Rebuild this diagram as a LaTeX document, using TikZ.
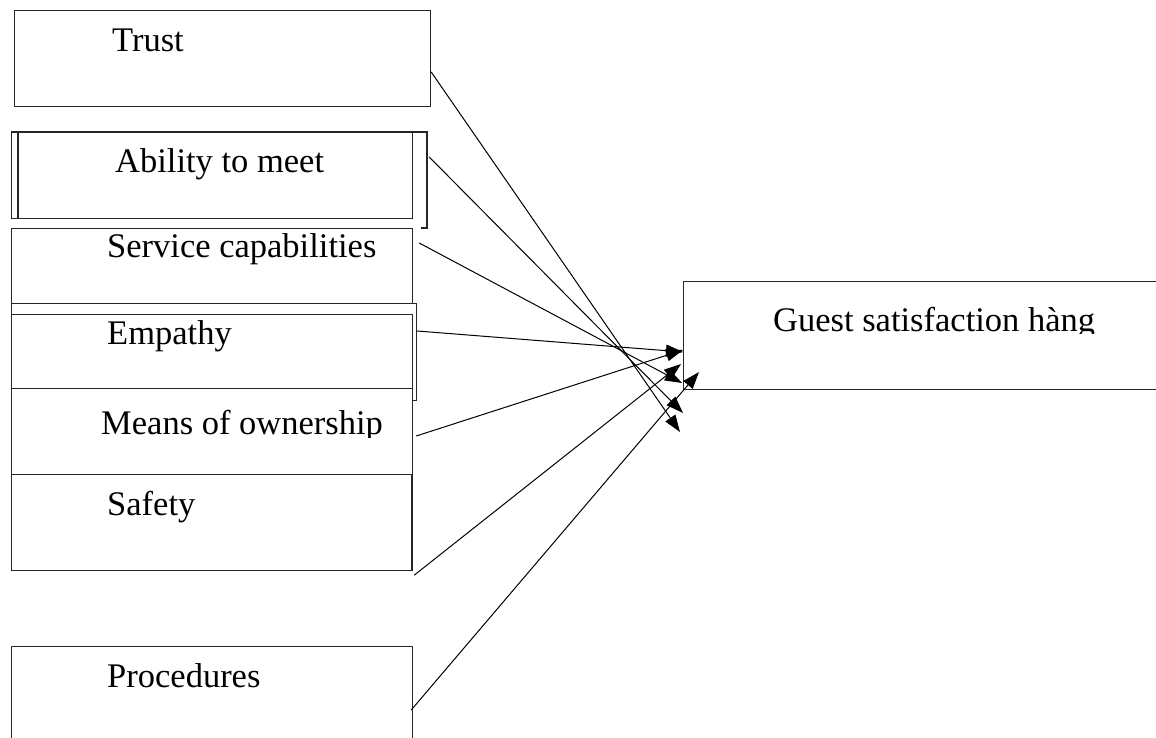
\documentclass[tikz,border=0pt]{standalone}
\usepackage{fontspec}
\setmainfont{Liberation Serif}
\usetikzlibrary{arrows.meta,calc}
\begin{document}
\begin{tikzpicture}[x=1pt,y=-1pt,
  box/.style={draw=black!85, line width=1.2pt, fill=white, rectangle, inner sep=0pt, anchor=north west},
  boxline/.style={draw=black!85, line width=1.2pt},
  lbl/.style={font=\fontsize{34.5}{40}\selectfont, inner sep=0pt, anchor=base west},
  conn/.style={draw=black, line width=1pt, -{Triangle[length=17pt,width=12pt]}},
  ]
\useasboundingbox (0,0) rectangle (1156,738);
\clip (0,0) rectangle (1156,738);

% boxes
\node[box, minimum width=416pt, minimum height=96pt] (trust) at (14,10) {};
\node[box, minimum width=401pt, minimum height=86pt] (ability) at (11,132) {};
\draw[boxline] (ability.north west) -- ++(416,0) -- ++(0,96) -- ++(-6,0);
\draw[boxline] ($(ability.north west)+(7,0)$) -- ++(0,86);
\node[box, minimum width=401pt, minimum height=75pt] (service) at (11,228) {};
\node[box, minimum width=405pt, minimum height=97pt] (empathyframe) at (11,303) {};
\node[box, minimum width=401pt, minimum height=74pt] (empathy) at (11,314) {};
\node[box, minimum width=401pt, minimum height=86pt] (means) at (11,388) {};
\node[box, minimum width=401pt, minimum height=96pt] (safety) at (11,474) {};
\draw[boxline] ($(safety.north east)+(-2,0)$) -- ($(safety.south east)+(-2,0)$);
\node[box, minimum width=401pt, minimum height=99pt] (procedures) at (11,646) {};
\node[box, minimum width=487pt, minimum height=108pt] (guest) at (683,281) {};

% labels
\node[lbl] (trusttext) at (112,52) {Trust};
\node[lbl] (abilitytext) at (115,173) {Ability to meet};
\node[lbl] (servicetext) at (107,257) {Service capabilities};
\node[lbl] (empathytext) at (107,344) {Empathy};
\begin{scope}
  \clip (11,388) rectangle (412,437);
  \node[lbl] (meanstext) at (101,434) {Means of ownership};
\end{scope}
\node[lbl] (safetytext) at (107,515) {Safety};
\node[lbl] (procedurestext) at (107,687) {Procedures};
\begin{scope}
  \clip (683,281) rectangle (1156,333.5);
  \node[lbl] (guesttext) at (773,331) {Guest satisfaction hàng};
\end{scope}

% connectors
\draw[conn] ($(trust.north east)+(0,62)$) -- ($(guest.north west)+(-3,151)$);
\draw[conn] ($(ability.north east)+(16,25)$) -- ($(guest.north west)+(0,132)$);
\draw[conn] ($(service.north east)+(6,15)$) -- ($(guest.north west)+(-1,102)$);
\draw[conn] ($(empathyframe.north east)+(0,28)$) -- ($(guest.north west)+(0,71)$);
\draw[conn] ($(means.north east)+(3,48)$) -- ($(guest.north west)+(0,69)$);
\draw[conn] ($(safety.south east)+(1,4)$) -- ($(guest.north west)+(-2,83)$);
\draw[conn] ($(procedures.north east)+(-2,64)$) -- ($(guest.north west)+(16,91)$);
\end{tikzpicture}
\end{document}
